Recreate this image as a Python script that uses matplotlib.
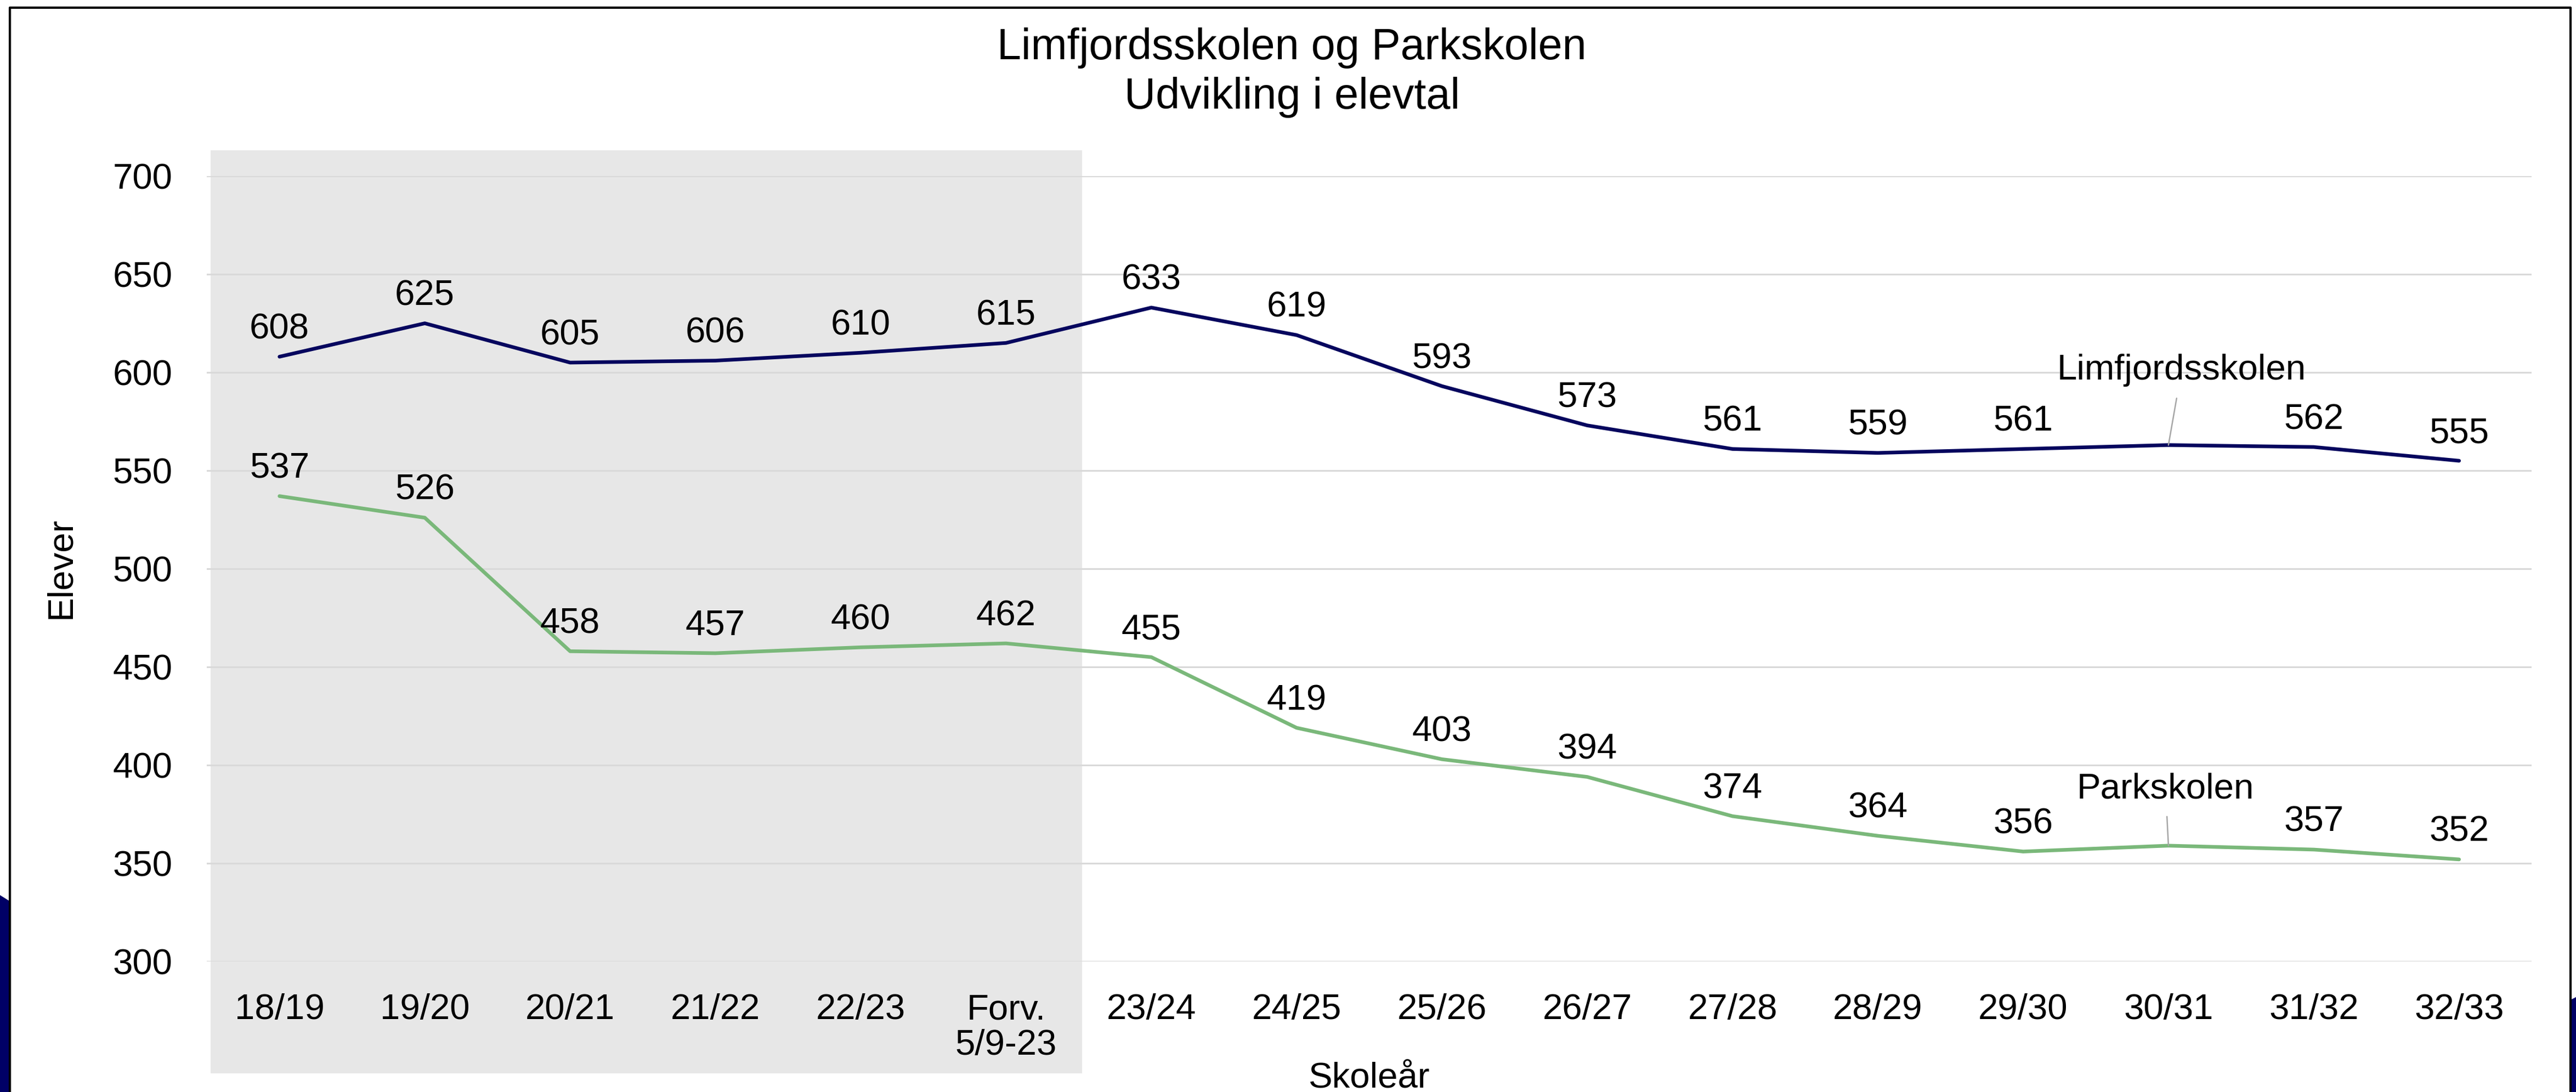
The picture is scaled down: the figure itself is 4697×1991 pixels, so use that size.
import matplotlib
matplotlib.use("Agg")
import matplotlib.pyplot as plt
from matplotlib.patches import Rectangle, Polygon
from matplotlib.lines import Line2D

plt.rcParams['font.family'] = ['Liberation Sans', 'DejaVu Sans']

categories = ["18/19", "19/20", "20/21", "21/22", "22/23", "Forv.\n5/9-23",
              "23/24", "24/25", "25/26", "26/27", "27/28", "28/29", "29/30",
              "30/31", "31/32", "32/33"]
limfjord = [608, 625, 605, 606, 610, 615, 633, 619, 593, 573, 561, 559, 561, 563, 562, 555]
parkskolen = [537, 526, 458, 457, 460, 462, 455, 419, 403, 394, 374, 364, 356, 359, 357, 352]
label_skip_index = 13  # no data label at 30/31 (series name label there)
yticks = [300, 350, 400, 450, 500, 550, 600, 650, 700]

navy = '#06065e'
green = '#7ab87a'
FS = 15.7

fig = plt.figure(figsize=(4697 / 300, 1991 / 300), dpi=300)
ax = fig.add_axes([0.0803, 0.1195, 0.9025, 0.7193])

x = list(range(len(categories)))

# shaded historical region
ax.add_patch(Rectangle((-0.475, 243), 6.0, 470, facecolor='#e7e7e7',
                       edgecolor='none', clip_on=False, zorder=0.1))

ax.plot(x, limfjord, color=navy, lw=1.6, solid_capstyle='round', zorder=3)
ax.plot(x, parkskolen, color=green, lw=1.6, solid_capstyle='round', zorder=3)

for i, (a, b) in enumerate(zip(limfjord, parkskolen)):
    if i == label_skip_index:
        continue
    ax.annotate(str(a), (i, a), xytext=(0, 12), textcoords='offset points',
                ha='center', va='center', fontsize=FS, color='black', zorder=4)
    ax.annotate(str(b), (i, b), xytext=(0, 12), textcoords='offset points',
                ha='center', va='center', fontsize=FS, color='black', zorder=4)

# series name labels with leader lines
i = label_skip_index
ax.annotate("Limfjordsskolen", (i, limfjord[i]), xytext=(i + 0.09, 601),
            textcoords='data', ha='center', va='center', fontsize=FS,
            arrowprops=dict(arrowstyle='-', color='#a6a6a6', lw=0.6,
                            shrinkA=3, shrinkB=0), zorder=4)
ax.annotate("Parkskolen", (i, parkskolen[i]), xytext=(i - 0.02, 388),
            textcoords='data', ha='center', va='center', fontsize=FS,
            arrowprops=dict(arrowstyle='-', color='#a6a6a6', lw=0.6,
                            shrinkA=3, shrinkB=0), zorder=4)

ax.set_xlim(-0.5, len(categories) - 0.5)
ax.set_ylim(300, 700)
ax.set_yticks(yticks)
ax.set_xticks(x)
ax.set_xticklabels(categories, linespacing=1.1)
ax.tick_params(axis='both', length=0, labelsize=FS)
ax.tick_params(axis='x', pad=14)
ax.tick_params(axis='y', pad=15)
ax.grid(axis='y', color='#d9d9d9', lw=0.75)
ax.set_axisbelow(True)
for s in ax.spines.values():
    s.set_visible(False)
ax.patch.set_alpha(0)

fig.text(0.5015, 0.9563, "Limfjordsskolen og Parkskolen", ha='center', va='center', fontsize=19)
fig.text(0.5015, 0.911, "Udvikling i elevtal", ha='center', va='center', fontsize=19)
fig.text(0.0236, 0.48, "Elever", rotation=90, ha='center', va='center', fontsize=FS)
fig.text(0.5315, 0.013, "Skoleår", ha='center', va='center', fontsize=FS)

# frame and slide decorations
W, H = 4697, 1991
fx = lambda px: px / W
fy = lambda py: 1 - py / H
fig.add_artist(Line2D([fx(18), fx(18), fx(4687), fx(4687)],
                      [0, fy(14), fy(14), 0], color='black', lw=1.0))
fig.add_artist(Polygon([(0, fy(1632)), (fx(16), fy(1642)), (fx(16), 0), (0, 0)],
                       closed=True, facecolor='#000066', edgecolor='none'))
fig.add_artist(Polygon([(fx(4689), fy(1822)), (1, fy(1818)), (1, 0), (fx(4689), 0)],
                       closed=True, facecolor='#000066', edgecolor='none'))

fig.savefig("out.png", dpi=300, facecolor='white')
